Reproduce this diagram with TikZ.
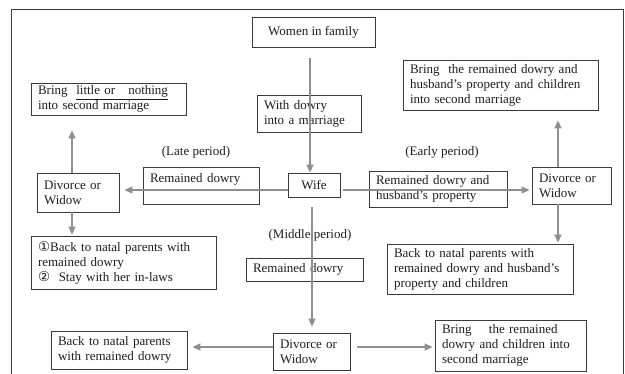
\documentclass[tikz,border=0pt]{standalone}
\usepackage{fontspec}
\setmainfont{Liberation Serif}
\newfontfamily\symf{DejaVu Sans}
\usetikzlibrary{arrows.meta}
\definecolor{arrowgray}{HTML}{8F8F8F}
\definecolor{boxline}{HTML}{3A3A3A}
\definecolor{txt}{HTML}{1E1E1E}
\begin{document}
\begin{tikzpicture}[x=1pt,y=-1pt,
  box/.style={draw=boxline, line width=0.9pt, fill=white, inner xsep=7pt, inner ysep=2pt,
    font=\fontsize{13}{15}\selectfont, text=txt, align=left},
  lbl/.style={font=\fontsize{13}{15}\selectfont, text=txt},
  arr/.style={draw=arrowgray, line width=1.8pt, -{Triangle[length=8pt,width=7pt]}}]
\useasboundingbox (0,0) rectangle (625,373);
\draw[draw=boxline, line width=0.8pt] (11,380) -- (11,9) -- (623,9) -- (623,380);

% boxes
\node[box, minimum width=123pt, minimum height=30pt, align=center] (women) at (313.5,32) {Women in family};
\node[box, minimum height=37pt, text width=90pt] (dowry) at (309,113.5) {With dowry\\into a marriage};
\node[box, minimum width=52pt, minimum height=24pt, align=center] (wife) at (314,185) {Wife};
\node[box, minimum height=37pt, text width=102pt] (lrem) at (201,185.5) {Remained dowry\\\mbox{}};
\node[box, minimum height=39pt, text width=68pt] (ldiv) at (78,192.5) {Divorce or\\Widow};
\node[box, minimum height=32pt, text width=141pt] (blit) at (108.5,99) {Bring \ \underline{little or \ \ nothing}\\into second marriage};
\node[box, minimum height=53pt, text width=171pt] (circ) at (123.5,262.5) {{\symf\fontsize{13.5}{15}\selectfont ①}Back to natal parents with\\remained dowry\\{\symf\fontsize{13.5}{15}\selectfont ②} \ Stay with her in-laws};
\node[box, minimum height=23pt, text width=103pt] (mrem) at (304.5,269.5) {Remained dowry};
\node[box, minimum height=37pt, text width=63pt] (bdiv) at (311.5,351.5) {Divorce or\\Widow};
\node[box, minimum height=38pt, text width=122pt] (bback) at (119,350) {Back to natal parents\\with remained dowry};
\node[box, minimum height=51pt, text width=137pt] (bbring) at (510.5,345.5) {Bring \quad the remained\\dowry and children into\\second marriage};
\node[box, minimum height=36pt, text width=124pt] (rrem) at (438,189) {Remained dowry and\\husband’s property};
\node[box, minimum height=37pt, text width=65pt] (rdiv) at (571.5,185.5) {Divorce or\\Widow};
\node[box, minimum height=50pt, text width=181pt] (rbring) at (500.5,85) {Bring \ the remained dowry and\\husband’s property and children\\into second marriage};
\node[box, minimum height=50pt, text width=172pt] (rback) at (480,269) {Back to natal parents with\\remained dowry and husband’s\\property and children};

% labels
\node[lbl] (late) at (196,152) {(Late period)};
\node[lbl] (early) at (442,152) {(Early period)};
\node[lbl] (middle) at (310,235) {(Middle period)};

% arrows
\draw[arr, shorten <=11pt] ([xshift=-3.5pt]women.south) -- ([xshift=-4pt]wife.north);
\draw[arr, shorten >=5pt] ([yshift=-5pt]wife.west) -- ([yshift=-5pt]wife.west -| ldiv.east);
\draw[arr, shorten <=3pt, shorten >=2pt] ([yshift=-5pt]wife.east) -- ([yshift=-5pt]wife.east -| rdiv.west);
\draw[arr, shorten >=15pt] ([xshift=-6pt]ldiv.north) -- ([xshift=-6pt]ldiv.north |- blit.south);
\draw[arr, shorten >=1pt] ([xshift=-6pt]ldiv.south) -- ([xshift=-6pt]ldiv.south |- circ.north);
\draw[arr, shorten <=10pt, shorten >=6pt] ([xshift=-2pt]wife.south) -- ([xshift=-2pt]wife.south |- bdiv.north);
\draw[arr, shorten >=5pt] ([yshift=4.5pt]bdiv.west) -- ([yshift=4.5pt]bdiv.west -| bback.east);
\draw[arr, shorten <=7pt, shorten >=2pt] ([yshift=4.5pt]bdiv.east) -- ([yshift=4.5pt]bdiv.east -| bbring.west);
\draw[arr, shorten >=10pt] ([xshift=-13.5pt]rdiv.north) -- ([xshift=-13.5pt]rdiv.north |- rbring.south);
\draw[arr, shorten >=1pt] ([xshift=-13.5pt]rdiv.south) -- ([xshift=-13.5pt]rdiv.south |- rback.north);
\end{tikzpicture}
\end{document}
